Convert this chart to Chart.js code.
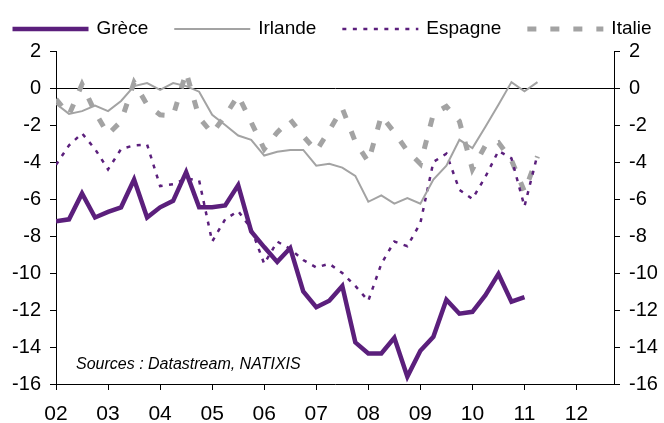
<!DOCTYPE html>
<html lang="fr">
<head>
<meta charset="utf-8">
<script src="https://cdn.jsdelivr.net/npm/chart.js@4.4.1/dist/chart.umd.min.js"></script>
<style>
html,body{margin:0;padding:0;background:#fff;}
#wrap{width:664px;height:423px;}
</style>
</head>
<body>
<div id="wrap"><canvas id="graphe" width="664" height="423"></canvas></div>
<script>
// Soldes budgétaires (% du PIB), données trimestrielles depuis 2002 T1
const annees=['02','03','04','05','06','07','08','09','10','11','12'];
const anneeDebut=2002;
const grece=[-7.2,-7.1,-5.7,-7.0,-6.7,-6.45,-4.95,-7.0,-6.45,-6.1,-4.55,-6.45,-6.45,-6.35,-5.25,-7.75,-8.6,-9.4,-8.65,-11.0,-11.85,-11.5,-10.7,-13.75,-14.35,-14.35,-13.5,-15.6,-14.2,-13.45,-11.45,-12.2,-12.1,-11.2,-10.05,-11.55,-11.3];
const irlande=[-0.85,-1.4,-1.25,-0.95,-1.25,-0.7,0.1,0.27,-0.1,0.27,0.1,-0.2,-1.45,-2.0,-2.57,-2.8,-3.65,-3.45,-3.35,-3.35,-4.2,-4.1,-4.3,-4.75,-6.15,-5.8,-6.25,-5.95,-6.25,-4.95,-4.2,-2.8,-3.25,-2.1,-0.9,0.32,-0.18,0.32];
const espagne=[-4.15,-3.1,-2.45,-3.3,-4.4,-3.3,-3.1,-3.05,-5.3,-5.2,-4.9,-5.0,-8.3,-7.1,-6.65,-7.6,-9.5,-8.3,-8.7,-9.3,-9.7,-9.5,-10.0,-10.7,-11.5,-9.5,-8.3,-8.55,-7.3,-4.0,-3.55,-5.5,-6.0,-4.8,-3.4,-3.8,-6.4,-3.6];
const italie=[-0.6,-1.45,0.2,-1.3,-2.5,-1.8,0.3,-0.9,-1.45,-1.5,0.85,-1.6,-2.45,-1.5,-0.4,-1.85,-3.3,-2.4,-1.7,-2.6,-3.4,-2.3,-1.1,-2.9,-4.0,-1.5,-2.4,-3.4,-4.1,-1.4,-1.0,-1.8,-4.4,-3.1,-2.95,-3.9,-5.6,-3.7];
const yTicks=[2,0,-2,-4,-6,-8,-10,-12,-14,-16];
const source='Sources : Datastream, NATIXIS';

const POLICE='"Liberation Sans", Arial, sans-serif';
const VIOLET='#5b1f7c', GRIS='#a3a3a3';

// trimestre i -> année décimale
const serie=v=>v.map((y,i)=>({x:anneeDebut+i/4,y}));

// légende dessinée à la main (les traits font 76px)
const legende={id:'legende',afterDraw(chart){
  const ctx=chart.ctx; ctx.save();
  ctx.font='19px '+POLICE;
  const L=76,G=8,E=26;
  const items=chart.data.datasets.map(d=>({d,w:ctx.measureText(d.label).width}));
  const total=items.reduce((s,it)=>s+L+G+it.w,0)+E*(items.length-1);
  let x=(chart.width-total)/2; const y=29;
  items.forEach(({d,w})=>{
    ctx.beginPath(); ctx.strokeStyle=d.borderColor; ctx.lineWidth=d.borderWidth;
    ctx.setLineDash(d.borderDash||[]); ctx.moveTo(x,y); ctx.lineTo(x+L,y); ctx.stroke();
    ctx.setLineDash([]); ctx.fillStyle='#000'; ctx.textBaseline='middle'; ctx.textAlign='left';
    ctx.fillText(d.label,x+L+G,y);
    x+=L+G+w+E;
  });
  // mention des sources dans le cadre
  ctx.font='italic 16px '+POLICE;
  ctx.fillText(source,chart.chartArea.left+20,365);
  ctx.restore();
}};

const axeY=(pos,larg)=>({
  type:'linear',position:pos,min:-16,max:2,
  afterFit:s=>{s.width=larg;},
  afterBuildTicks:s=>{s.ticks=yTicks.map(v=>({value:v}));},
  border:{display:true,color:'#000',width:1},
  grid:{drawOnChartArea:pos==='left',color:c=>c.tick&&c.tick.value===0?'#000':'rgba(0,0,0,0)',tickColor:'#000',tickLength:6,lineWidth:1},
  ticks:{color:'#000',font:{family:POLICE,size:20},padding:9}
});

new Chart(document.getElementById('graphe'),{
  type:'line',
  data:{datasets:[
    {label:'Grèce',data:serie(grece),borderColor:VIOLET,borderWidth:4.5,borderDash:[]},
    {label:'Irlande',data:serie(irlande),borderColor:GRIS,borderWidth:2,borderDash:[]},
    {label:'Espagne',data:serie(espagne),borderColor:VIOLET,borderWidth:2.5,borderDash:[4,6.5]},
    {label:'Italie',data:serie(italie),borderColor:GRIS,borderWidth:5,borderDash:[9,14]}
  ]},
  options:{
    responsive:false,animation:false,devicePixelRatio:1,
    layout:{padding:{top:51,left:0,right:0,bottom:0}},
    elements:{point:{radius:0},line:{tension:0,fill:false}},
    plugins:{legend:{display:false},tooltip:{enabled:false}},
    scales:{
      x:{type:'linear',min:anneeDebut,max:2012.72,
        afterFit:s=>{s.height=39;},
        afterBuildTicks:s=>{s.ticks=annees.map((a,i)=>({value:anneeDebut+i}));},
        border:{display:true,color:'#000',width:1},
        grid:{drawOnChartArea:false,tickColor:'#000',tickLength:6},
        ticks:{color:'#000',font:{family:POLICE,size:21},padding:12,maxRotation:0,
          callback:v=>annees[Math.round(v-anneeDebut)]}
      },
      y:axeY('left',56),
      y2:axeY('right',50)
    }
  },
  plugins:[legende]
});
</script>
</body>
</html>
